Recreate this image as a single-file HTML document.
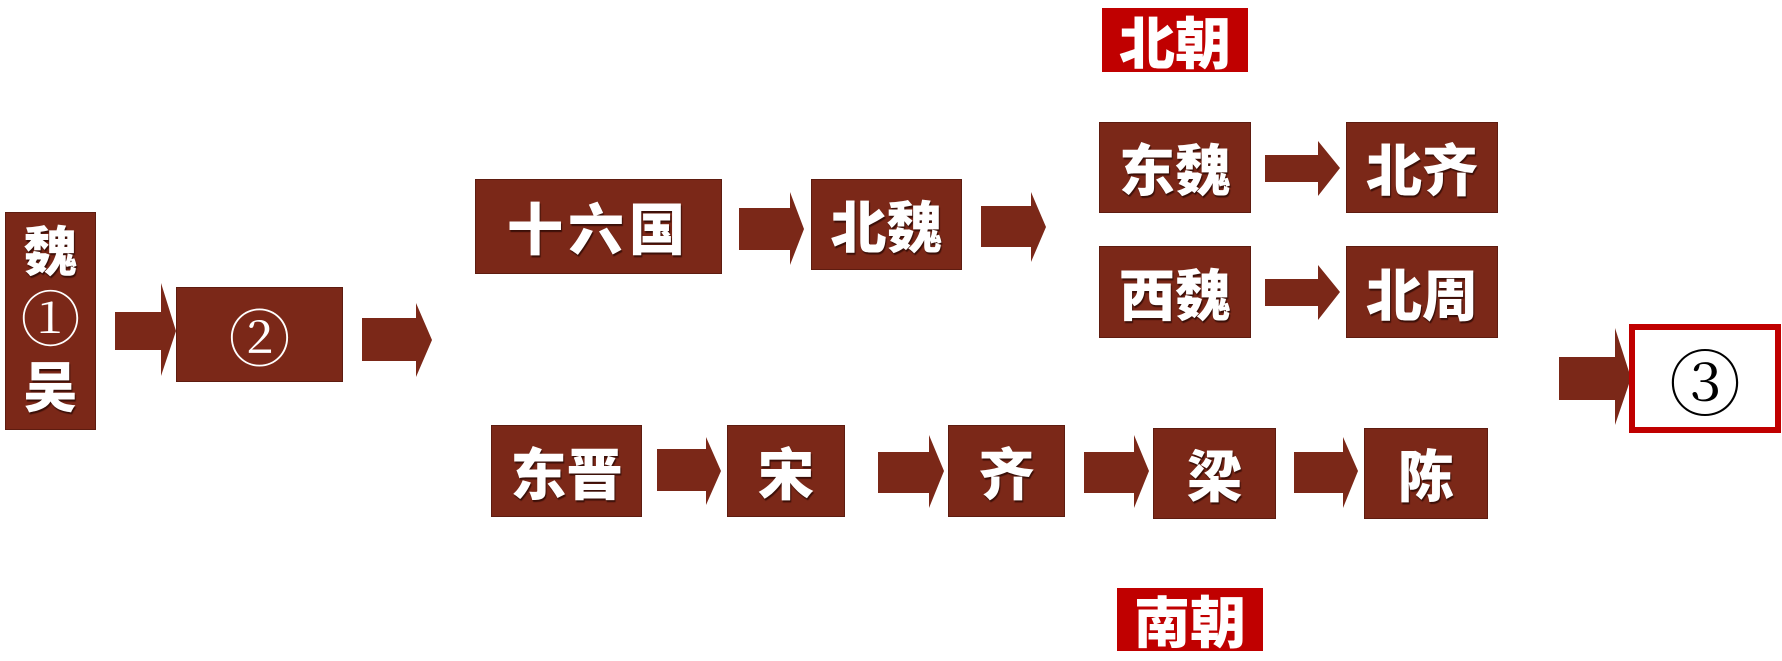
<!DOCTYPE html>
<html><head><meta charset="utf-8"><style>
html,body{margin:0;padding:0;background:#fff;}
body{width:1782px;height:661px;position:relative;overflow:hidden;font-family:"Liberation Sans","Noto Sans CJK SC",sans-serif;}
.b{position:absolute;background:#7b2818;border:1px solid #5e1c10;box-sizing:border-box;color:#fff;font-weight:900;display:flex;align-items:center;justify-content:center;font-size:56px;text-shadow:1px 2px 1px #3a0f08;}
.r{position:absolute;background:#c00000;color:#fff;font-weight:900;display:flex;align-items:center;justify-content:center;font-size:56px;}
.c{font-weight:normal;font-family:"Liberation Serif","Noto Serif CJK SC",serif;text-shadow:none;}
svg{position:absolute;left:0;top:0;}
</style></head><body>
<svg width="1782" height="661">
<g fill="#7b2818">
<polygon points="115,312 161,312 161,283 176,331 161,376 161,350 115,350"/>
<polygon points="362,318 416,318 416,303 432,340 416,377 416,361 362,361"/>
<polygon points="739,208 790,208 790,192 804,229 790,265 790,250 739,250"/>
<polygon points="981,206 1031,206 1031,192 1046,227 1031,262 1031,247 981,247"/>
<polygon points="1265,155 1318,155 1318,141 1340,168 1318,196 1318,182 1265,182"/>
<polygon points="1265,279 1318,279 1318,265 1340,292 1318,320 1318,306 1265,306"/>
<polygon points="1559,357 1615,357 1615,328 1631,378 1615,425 1615,400 1559,400"/>
<polygon points="657,449 706,449 706,437 721,471 706,505 706,491 657,491"/>
<polygon points="878,452 929,452 929,435 944,471 929,508 929,493 878,493"/>
<polygon points="1084,452 1134,452 1134,435 1149,471 1134,508 1134,493 1084,493"/>
<polygon points="1294,452 1343,452 1343,437 1358,471 1343,508 1343,493 1294,493"/>
</g>
</svg>
<div class="b" style="left:5px;top:212px;width:91px;height:218px;flex-direction:column;font-size:54px;line-height:68px;"><span>魏</span><span class="c" style="font-size:60px;">①</span><span>吴</span></div>
<div class="b c" style="left:176px;top:287px;width:167px;height:95px;font-size:62px;">②</div>
<div class="b" style="left:475px;top:179px;width:247px;height:95px;letter-spacing:5px;">十六国</div>
<div class="b" style="left:811px;top:179px;width:151px;height:91px;">北魏</div>
<div class="r" style="left:1102px;top:8px;width:146px;height:64px;">北朝</div>
<div class="b" style="left:1099px;top:122px;width:152px;height:91px;">东魏</div>
<div class="b" style="left:1346px;top:122px;width:152px;height:91px;">北齐</div>
<div class="b" style="left:1099px;top:246px;width:152px;height:92px;">西魏</div>
<div class="b" style="left:1346px;top:246px;width:152px;height:92px;">北周</div>
<div style="position:absolute;left:1629px;top:324px;width:152px;height:109px;box-sizing:border-box;border:6px solid #c00000;display:flex;align-items:center;justify-content:center;font-size:72px;font-family:'Liberation Serif','Noto Serif CJK SC',serif;color:#000;">③</div>
<div class="b" style="left:491px;top:425px;width:151px;height:92px;">东晋</div>
<div class="b" style="left:727px;top:425px;width:118px;height:92px;">宋</div>
<div class="b" style="left:948px;top:425px;width:117px;height:92px;">齐</div>
<div class="b" style="left:1153px;top:428px;width:123px;height:91px;">梁</div>
<div class="b" style="left:1364px;top:428px;width:124px;height:91px;">陈</div>
<div class="r" style="left:1117px;top:588px;width:146px;height:63px;">南朝</div>
</body></html>
